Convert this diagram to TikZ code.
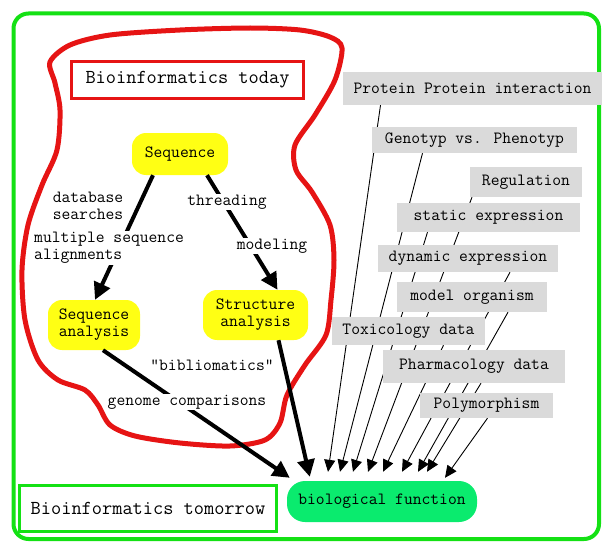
\documentclass[tikz,border=0pt]{standalone}
\usepackage{fontspec}
\usetikzlibrary{arrows.meta,backgrounds}
\definecolor{framegreen}{RGB}{20,225,20}
\definecolor{blobred}{RGB}{230,20,20}
\definecolor{seqyellow}{RGB}{255,255,20}
\definecolor{biogreen}{RGB}{10,235,110}
\definecolor{topicgray}{RGB}{218,218,218}

\begin{document}
\begin{tikzpicture}[x=1pt,y=-1pt,
    every node/.style={font=\ttfamily\fontsize{17.1}{17}\selectfont, align=center, inner sep=0pt},
    headline/.style={draw, line width=3pt, font=\ttfamily\fontsize{19.8}{22}\selectfont},
    seqbox/.style={fill=seqyellow, rounded corners=14pt},
    topic/.style={fill=topicgray},
    lbl/.style={fill=white, inner sep=1pt},
    flow/.style={line width=4pt, -{Triangle[length=17pt,width=17pt]}},
    feed/.style={line width=0.9pt, -{Triangle[length=12pt,width=11pt]}}]
    \useasboundingbox (0,0) rectangle (603,543);
    \draw[framegreen, line width=4pt, rounded corners=15pt] (13.5,13.5) rectangle (599,539);
    \draw[blobred, line width=5pt] plot[smooth cycle, tension=0.5] coordinates {
        (50,62) (70,45) (110,35) (180,30) (250,28) (300,30) (330,37) (342,48)
        (335,80) (315,115) (295,145) (296,170) (312,192) (330,225) (334,260)
        (331,300) (326,335) (305,365) (287,395) (280,423) (265,440) (230,446)
        (180,443) (135,436) (110,425) (98,405) (85,390) (58,380) (38,360)
        (25,320) (22,270) (28,225) (42,185) (57,150) (60,110) (55,83)};

    \node[headline, draw=blobred, minimum width=232pt, minimum height=37pt] (today) at (187.5,80) {Bioinformatics today};
    \node[headline, draw=framegreen, minimum width=257pt, minimum height=46pt] (tomorrow) at (148,508) {Bioinformatics tomorrow};
    \node[seqbox, minimum width=96pt, minimum height=42pt] (seq) at (180,154) {Sequence};
    \node[seqbox, minimum width=92pt, minimum height=50pt] (seqan) at (94,325) {Sequence\\analysis};
    \node[seqbox, minimum width=105pt, minimum height=50pt] (struct) at (255.5,315) {Structure\\analysis};
    \node[fill=biogreen, rounded corners=18pt, minimum width=190pt, minimum height=41pt] (bio) at (382,501.5) {biological function};

    \node[topic, minimum width=259pt, minimum height=33pt] (prot) at (472.5,88.5) {Protein Protein interaction};
    \node[topic, minimum width=205pt, minimum height=26pt] (geno) at (474.5,140) {Genotyp vs. Phenotyp};
    \node[topic, minimum width=112pt, minimum height=30pt] (regul) at (526,182) {Regulation};
    \node[topic, minimum width=183pt, minimum height=29pt] (static) at (488.5,217.5) {static expression};
    \node[topic, minimum width=180pt, minimum height=27pt] (dynamic) at (468,258.5) {dynamic expression};
    \node[topic, minimum width=150pt, minimum height=30pt] (model) at (472,297) {model organism};
    \node[topic, minimum width=153pt, minimum height=28pt] (tox) at (408.5,331) {Toxicology data};
    \node[topic, minimum width=182pt, minimum height=33pt] (pharma) at (474,366.5) {Pharmacology data};
    \node[topic, minimum width=133pt, minimum height=25pt] (poly) at (486.5,405.5) {Polymorphism};

    \begin{scope}[on background layer]
        \draw[feed] ([xshift=-92pt]prot.south) -- ([xshift=-54pt,yshift=9pt]bio.north);
        \draw[feed] ([xshift=-52pt]geno.south) -- ([xshift=-42pt,yshift=9pt]bio.north);
        \draw[feed] ([xshift=-61pt]static.south) -- ([xshift=-29pt,yshift=9pt]bio.north);
        \draw[feed] ([xshift=-54pt]regul.south) -- ([xshift=-14pt,yshift=9pt]bio.north);
        \draw[feed] ([xshift=35pt]tox.south) -- ([xshift=1pt,yshift=9pt]bio.north);
        \draw[feed] ([xshift=42pt]dynamic.south) -- ([xshift=20pt,yshift=9pt]bio.north);
        \draw[feed] ([xshift=36pt]model.south) -- ([xshift=36pt,yshift=9pt]bio.north);
        \draw[feed] ([xshift=7pt]pharma.south) -- ([xshift=45pt,yshift=9pt]bio.north);
        \draw[feed] ([xshift=1pt]poly.south) -- ([xshift=63pt,yshift=3pt]bio.north);
    \end{scope}

    \draw[flow] ([xshift=-27pt]seq.south) -- ([xshift=1pt]seqan.north);
    \draw[flow] ([xshift=27pt]seq.south) -- ([xshift=22pt]struct.north);
    \draw[flow] ([xshift=9pt]seqan.south) -- ([xshift=3pt,yshift=3pt]bio.north west);
    \draw[flow] ([xshift=23pt]struct.south) -- ([xshift=23pt,yshift=4pt]bio.north west);

    \node (dbsearch) at (88,206) {database\\searches};
    \node[lbl, align=left, anchor=west] (msa) at (33,248) {multiple sequence\\alignments};
    \node[lbl] (thread) at (227,202) {threading};
    \node[lbl] (modeling) at (272,246) {modeling};
    \node (biblio) at (212,365) {"bibliomatics"};
    \node[lbl] (genome) at (187,402) {genome comparisons};
\end{tikzpicture}
\end{document}
